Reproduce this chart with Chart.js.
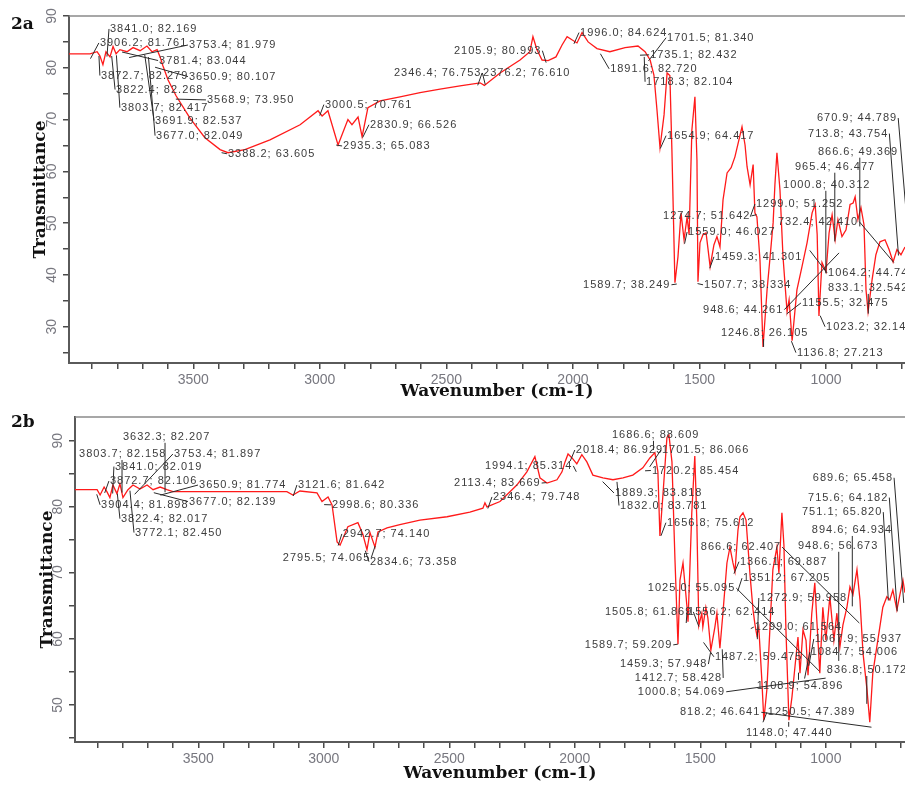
<!DOCTYPE html>
<html>
<head>
<meta charset="utf-8">
<script src="https://cdn.jsdelivr.net/npm/chart.js@4.4.0/dist/chart.umd.min.js"></script>
<style>
html, body { margin: 0; padding: 0; background: #fff; width: 905px; height: 785px; overflow: hidden; }
.panel { position: absolute; left: 0; width: 925px; }
#p2a { top: 0; height: 402px; }
#p2b { top: 398px; height: 387px; }
.tag { position: absolute; left: 11px; font: bold 17px "DejaVu Serif", serif; color: #111; }
</style>
</head>
<body>
<div class="panel" id="p2a"><canvas id="g2a"></canvas></div>
<div class="panel" id="p2b"><canvas id="g2b"></canvas></div>
<div class="tag" style="top:13px">2a</div>
<div class="tag" style="top:411px">2b</div>
<script>
// spectre 2a : nombres d'onde (cm-1) et transmittance (%)
const wn2a = [3991,3908,3880,3869,3857,3845,3829,3817,3805,3790,3762,3738,3710,3683,3663,3643,3631,3620,3600,3568,
  3513,3454,3394,3363,3296,3197,3078,3007,2991,2968,2928,2889,2873,2849,2833,2810,2762,2683,2604,2525,
  2446,2367,2350,2288,2209,2170,2158,2142,2122,2098,2067,2043,2023,2004,1984,1964,1940,1905,1854,1794,
  1743,1715,1695,1680,1668,1656,1640,1628,1617,1609,1597,1585,1573,1561,1549,1541,1530,1518,1510,1506,
  1498,1486,1474,1466,1458,1443,1431,1419,1407,1391,1375,1360,1332,1320,1312,1300,1288,1281,1273,1261,
  1249,1233,1221,1209,1202,1194,1182,1170,1154,1146,1134,1115,1095,1075,1055,1043,1035,1028,1016,1000,
  988,976,964,953,937,921,905,893,885,874,862,850,842,834,818,803,787,767,751,735,720,704,688];
const tr2a = [82.7,82.7,83.1,82.3,80.6,83.1,82.1,84.1,82.7,83.5,83.1,83.9,83.3,84.2,83.1,83.5,82.1,80.4,77.7,74.6,
  70.3,66.5,64.2,63.6,64.2,66.1,69.0,71.7,70.7,71.7,65.1,70.0,69.0,70.5,66.7,72.3,73.6,74.4,75.2,75.9,
  76.5,77.1,76.6,79.0,81.5,83.1,86.0,83.5,81.5,81.4,82.1,84.4,86.0,85.4,84.8,86.8,85.0,83.7,83.1,83.9,
  84.2,83.1,81.5,78.6,71.9,64.6,70.9,79.0,78.5,64.2,38.5,43.5,52.0,46.8,51.2,47.8,68.0,74.4,62.2,38.7,
  46.2,47.8,48.1,44.9,41.6,45.8,47.4,45.4,54.5,59.7,60.7,62.8,68.6,65.1,60.9,57.4,61.3,52.0,51.2,42.9,
  26.1,37.1,43.5,50.1,57.4,63.6,56.4,43.5,32.9,35.2,27.3,37.1,41.6,46.2,52.0,53.6,47.8,32.1,42.4,40.6,
  48.1,51.6,46.8,50.7,47.4,48.7,53.6,53.9,55.1,50.7,53.0,49.7,37.1,32.9,39.1,43.9,46.4,46.8,44.9,42.5,
  44.9,43.9,45.4];
// pics annotés 2a (nombre d'onde ; transmittance)
const peakWn2a = [3841.0,3906.2,3753.4,3781.4,3872.7,3650.9,3822.4,3568.9,3803.7,3691.9,3677.0,3388.2,3000.5,2935.3,2830.9,
  2346.4,2376.2,2105.9,1996.0,1701.5,1735.1,1891.6,1718.3,1654.9,670.9,713.8,866.6,965.4,1000.8,1299.0,
  1274.7,732.4,1559.0,1459.3,1064.2,1589.7,1507.7,833.1,1155.5,948.6,1023.2,1246.8,1136.8];
const peakT2a = [82.169,81.761,81.979,83.044,82.279,80.107,82.268,73.950,82.417,82.537,82.049,63.605,70.761,65.083,66.526,
  76.753,76.610,80.993,84.624,81.340,82.432,82.720,82.104,64.417,44.789,43.754,49.369,46.477,40.312,51.252,
  51.642,42.410,46.027,41.301,44.74,38.249,38.334,32.542,32.475,44.261,32.14,26.105,27.213];
// emplacement des étiquettes, en unités du graphe
const labelWn2a = [3829,3869,3517,3635,3865,3517,3805,3446,3786,3651,3647,3363,2980,2908,2802,
  2707,2355,2470,1972,1628,1695,1853,1711,1628,1036,1071,1032,1123,1170,1277,
  1644,1190,1545,1439,992,1960,1482,992,1095,1486,1000,1415,1115];
const labelT2a = [87.5,84.8,84.4,81.4,78.5,78.3,75.8,73.8,72.3,69.8,66.9,63.4,72.9,64.9,69.0,
  79.0,79.0,83.3,86.8,85.8,82.5,79.8,77.3,66.9,70.3,67.3,63.8,60.9,57.4,53.7,
  51.4,50.3,48.3,43.5,40.4,38.1,38.1,37.5,34.6,33.3,30.0,28.8,25.0];

// spectre 2b
const wn2b = [3991,3903,3891,3875,3864,3852,3840,3824,3812,3800,3780,3760,3732,3704,3680,3652,3625,3601,3413,3254,
  3147,3123,3095,3027,3007,2983,2967,2947,2935,2904,2864,2844,2828,2816,2796,2784,2748,2697,2617,2509,
  2418,2366,2358,2350,2298,2231,2191,2159,2139,2111,2071,2051,2039,2027,2011,1992,1972,1952,1928,1888,
  1848,1808,1769,1729,1701,1681,1669,1661,1649,1633,1625,1613,1601,1589,1581,1569,1553,1549,1534,1522,
  1514,1506,1494,1490,1478,1470,1458,1442,1434,1422,1410,1394,1382,1370,1362,1350,1342,1330,1318,1310,
  1302,1290,1282,1275,1267,1255,1247,1235,1223,1211,1195,1187,1175,1167,1159,1147,1135,1123,1111,1103,
  1091,1079,1071,1056,1044,1036,1024,1012,1000,984,968,956,944,932,916,904,892,876,864,852,
  836,825,813,797,785,773,757,745,733,717,705,693,685];
const tr2b = [82.6,82.6,81.8,83.0,82.3,81.4,83.3,82.0,83.5,81.4,82.6,83.3,82.7,83.3,82.6,83.0,82.6,82.3,82.3,82.3,
  82.3,81.8,82.4,82.1,80.8,81.5,80.3,74.7,74.2,77.0,77.6,75.8,73.5,76.1,73.9,76.2,76.8,77.3,78.0,78.5,
  79.2,79.8,80.6,80.0,80.8,83.3,85.3,87.6,84.4,83.6,84.1,85.3,86.8,88.0,87.4,86.5,87.9,86.8,84.8,84.4,
  84.1,84.4,84.8,85.9,87.4,88.2,85.3,75.6,81.8,90.5,90.9,86.8,72.0,59.2,68.9,71.5,64.8,62.6,79.1,87.7,
  78.0,62.0,63.9,61.8,64.8,63.2,58.3,61.8,63.9,58.6,63.9,71.5,73.9,71.5,70.2,76.5,78.5,79.1,78.0,73.9,
  69.7,64.4,62.1,60.6,61.7,53.8,47.7,52.3,61.4,70.5,73.9,70.0,79.1,74.2,61.4,47.7,51.2,55.8,60.3,54.8,
  61.4,59.8,54.5,63.9,68.5,62.9,54.8,64.8,59.8,66.4,59.8,63.9,58.8,62.1,64.8,67.9,66.7,70.5,65.9,57.9,
  52.3,47.4,54.8,58.8,61.8,64.8,66.4,65.9,67.4,64.4,66.7,68.9,67.0];
const peakWn2b = [3632.3,3803.7,3753.4,3841.0,3872.7,3650.9,3121.6,3904.4,3677.0,2998.6,3822.4,3772.1,2942.7,2795.5,2834.6,
  1686.6,2018.4,1701.5,1994.1,1720.2,2113.4,1889.3,2346.4,1832.0,689.6,715.6,751.1,1656.8,894.6,866.6,
  948.6,1366.1,1351.2,1025.0,1272.9,1505.8,1556.2,1299.0,1589.7,1067.9,1084.7,1487.2,1459.3,836.8,1412.7,
  1108.9,1000.8,818.2,1250.5,1148.0];
const peakT2b = [82.207,82.158,81.897,82.019,82.106,81.774,81.642,81.898,82.139,80.336,82.017,82.450,74.140,74.065,73.358,
  88.609,86.929,86.066,85.314,85.454,83.669,83.818,79.748,83.781,65.458,64.182,65.820,75.612,64.934,62.407,
  56.673,69.887,67.205,55.095,59.958,61.869,62.414,61.564,59.209,55.937,54.006,59.475,57.948,50.172,58.428,
  54.896,54.069,46.641,47.389,47.440];
const labelWn2b = [3800,3975,3597,3832,3852,3497,3103,3887,3537,2967,3808,3752,2924,3163,2816,
  1852,1996,1653,2358,1693,2481,1840,2326,1820,1052,1071,1095,1633,1056,1498,
  1111,1342,1330,1709,1263,1880,1549,1283,1960,1044,1060,1442,1820,996,1761,
  1275,1749,1581,1231,1318];
const labelT2b = [90.6,88.0,88.0,86.1,83.9,83.3,83.3,80.3,80.8,80.3,78.2,76.1,75.9,72.3,71.7,
  90.9,88.6,88.6,86.2,85.5,83.6,82.1,81.5,80.2,84.4,81.4,79.2,77.6,76.5,73.9,
  74.1,71.7,69.2,67.7,66.2,64.1,64.1,61.8,59.1,60.0,58.0,57.3,56.2,55.3,54.1,
  52.9,52.0,48.9,48.9,45.8];

//plugin : cadre du haut + étiquettes des pics avec leur trait
function calloutPlugin(peakWn, peakT, labelWn, labelT) {
    return {
        id: 'callouts',
        afterDatasetsDraw(chart) {
            const ctx = chart.ctx;
            const xs = chart.scales.x, ys = chart.scales.y, area = chart.chartArea;
            ctx.save();
            ctx.strokeStyle = '#8a8a8a';
            ctx.lineWidth = 1.5;
            ctx.beginPath();
            ctx.moveTo(area.left, area.top);
            ctx.lineTo(area.right, area.top);
            ctx.stroke();
            ctx.font = '11px "Liberation Sans", Arial, sans-serif';
            ctx.letterSpacing = '1px';
            ctx.textBaseline = 'middle';
            ctx.fillStyle = '#3c3c3c';
            ctx.strokeStyle = '#2a2a2a';
            ctx.lineWidth = 1;
            for (let i = 0; i < peakWn.length; i++) {
                const text = peakWn[i].toFixed(1) + '; ' + peakT[i].toFixed(3);
                const tx = xs.getPixelForValue(labelWn[i]), ty = ys.getPixelForValue(labelT[i]);
                const px = xs.getPixelForValue(peakWn[i]), py = ys.getPixelForValue(peakT[i]);
                const w = ctx.measureText(text).width;
                let sx = tx - 1, sy = ty;
                if (px > tx + w) {
                    sx = tx + w + 1;
                } else if (px >= tx) {
                    sx = px;
                    sy = py > ty ? ty + 6 : ty - 6;
                }
                ctx.beginPath();
                ctx.moveTo(sx, sy);
                ctx.lineTo(px, py);
                ctx.stroke();
                ctx.fillText(text, tx, ty);
            }
            ctx.restore();
        }
    };
}

const tickFont = { family: '"Liberation Sans", Arial, sans-serif', size: 14 };
const titleFont = { family: '"DejaVu Serif", serif', weight: 'bold', size: 17, lineHeight: 1.2 };

//fonction qui crée un spectre
function spectre(id, wn, tr, peakWn, peakT, labelWn, labelT, box) {
    let context = document.getElementById(id).getContext('2d');
    let points = wn.map((w, i) => ({ x: w, y: tr[i] }));
    let config = {
        type: 'line',
        data: {
            datasets: [{
                data: points,
                borderColor: '#ff1a1a',
                borderWidth: 1.3,
                pointRadius: 0,
                fill: false,
                tension: 0
            }]
        },
        options: {
            responsive: true,
            maintainAspectRatio: false,
            animation: false,
            layout: { padding: { top: box.top, left: 0, right: 0, bottom: 0 } },
            plugins: { legend: { display: false }, tooltip: { enabled: false } },
            scales: {
                x: {
                    type: 'linear',
                    reverse: true,
                    min: box.xMin,
                    max: box.xMax,
                    afterFit: s => { s.height = box.axisH; },
                    border: { color: '#5a5a5a', width: 2 },
                    grid: { drawOnChartArea: false, color: '#4a4a4a', lineWidth: 1.5, tickLength: 6 },
                    ticks: {
                        stepSize: 100, includeBounds: false, autoSkip: false, maxRotation: 0,
                        padding: 3, color: '#77777f', font: tickFont,
                        callback: v => (v % 500 === 0 ? String(v) : '')
                    },
                    title: {
                        display: true, text: 'Wavenumber (cm-1)', color: '#111', font: titleFont,
                        padding: { top: 0, bottom: box.titleBottom }
                    }
                },
                y: {
                    min: box.yMin,
                    max: box.yMax,
                    afterFit: s => { s.width = box.axisW; },
                    border: { color: '#5a5a5a', width: 2 },
                    grid: { drawOnChartArea: false, color: '#4a4a4a', lineWidth: 1.5, tickLength: 6 },
                    ticks: {
                        stepSize: 5, includeBounds: false, minRotation: 90, maxRotation: 90,
                        crossAlign: 'center', padding: 3, color: '#77777f', font: tickFont,
                        callback: v => (v % 10 === 0 ? String(v) : '')
                    },
                    title: {
                        display: true, text: 'Transmittance', color: '#111', font: titleFont,
                        padding: { top: box.titleLeft, bottom: 0 }
                    }
                }
            }
        },
        plugins: [calloutPlugin(peakWn, peakT, labelWn, labelT)]
    };
    return new Chart(context, config);
}

window.addEventListener('load', () => {
    spectre('g2a', wn2a, tr2a, peakWn2a, peakT2a, labelWn2a, labelT2a,
        { xMin: 609, xMax: 3991, yMin: 23, yMax: 90, top: 16, axisH: 39, axisW: 69, titleBottom: 0, titleLeft: 30 });
    spectre('g2b', wn2b, tr2b, peakWn2b, peakT2b, labelWn2b, labelT2b,
        { xMin: 605, xMax: 3991, yMin: 44.4, yMax: 93.6, top: 19, axisH: 43, axisW: 75, titleBottom: 1, titleLeft: 37 });
});
</script>
</body>
</html>
